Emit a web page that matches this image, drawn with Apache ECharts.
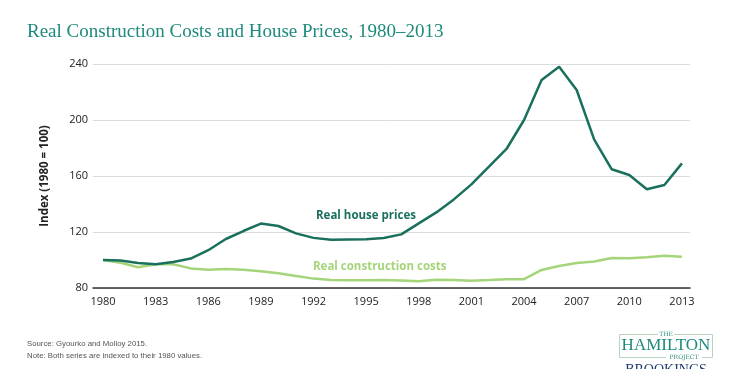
<!DOCTYPE html>
<html>
<head>
<meta charset="utf-8">
<script src="https://cdn.jsdelivr.net/npm/echarts@6/dist/echarts.min.js"></script>
<style>html,body{margin:0;padding:0;background:#fff;}#c{width:729px;height:369px;}</style>
</head>
<body>
<div id="c"></div>
<script>
const years = [1980,1981,1982,1983,1984,1985,1986,1987,1988,1989,1990,1991,1992,1993,1994,1995,1996,1997,1998,1999,2000,2001,2002,2003,2004,2005,2006,2007,2008,2009,2010,2011,2012,2013];
const housePrices = [100,99.6,97.8,97,98.6,101,107,115,120.7,126,124.3,119,115.8,114.5,114.7,114.8,115.7,118.3,126.2,134,143.3,154,166.7,179.3,200,228.6,238,221.4,186,164.8,160.7,150.5,153.6,169];
const constructionCosts = [100,98,94.8,97,97,94,93,93.5,93,92,90.5,88.6,86.7,85.7,85.5,85.5,85.7,85.3,84.8,85.9,85.7,85.2,85.7,86.3,86.3,92.9,95.7,97.9,99,101.4,101.2,101.9,103.1,102.4];
const xTicks = [1980,1983,1986,1989,1992,1995,1998,2001,2004,2007,2010,2013];
const yTicks = [80,120,160,200,240];

const darkGreen = '#19705c';
const lightGreen = '#a5d47a';

const chart = echarts.init(document.getElementById('c'), null, {renderer:'canvas'});
chart.setOption({
  animation: false,
  backgroundColor: '#fff',
  title: {
    text: 'Real Construction Costs and House Prices, 1980–2013',
    left: 22, top: 18,
    textStyle: {fontFamily: 'Liberation Serif', fontWeight: 'normal', fontSize: 19, color: '#1d8a7c'}
  },
  grid: {left: 93, right: 39, top: 64, bottom: 81, containLabel: false},
  xAxis: {
    type: 'value', min: 1979.43, max: 2013.46,
    axisLine: {show: true, lineStyle: {color: '#333', width: 1.5}},
    axisTick: {show: false},
    splitLine: {show: false},
    axisLabel: {customValues: xTicks, color: '#222', fontSize: 11, fontFamily: 'Open Sans', margin: 8,
      formatter: v => String(v)}
  },
  yAxis: {
    type: 'value', min: 80, max: 240, interval: 40,
    name: 'Index (1980 = 100)', nameLocation: 'middle', nameGap: 42,
    nameTextStyle: {fontWeight: 'bold', fontSize: 11.5, color: '#222', fontFamily: 'Open Sans'},
    axisLine: {show: false}, axisTick: {show: false},
    axisLabel: {color: '#222', fontSize: 11, fontFamily: 'Open Sans', margin: 5},
    splitLine: {lineStyle: {color: '#dcdcdc', width: 1}}
  },
  series: [
    {type: 'line', name: 'Real construction costs', data: years.map((y,i)=>[y, constructionCosts[i]]),
      showSymbol: false, lineStyle: {color: lightGreen, width: 2.5}, z: 2},
    {type: 'line', name: 'Real house prices', data: years.map((y,i)=>[y, housePrices[i]]),
      showSymbol: false, lineStyle: {color: darkGreen, width: 2.5}, z: 3}
  ],
  graphic: [
    {type: 'text', left: 316, top: 210, style: {text: 'Real house prices', fill: darkGreen, font: 'bold 11.5px "Open Sans"'}},
    {type: 'text', left: 313, top: 261, style: {text: 'Real construction costs', fill: lightGreen, font: 'bold 11.5px "Open Sans"'}},
    {type: 'text', left: 27, top: 340, style: {text: 'Source: Gyourko and Molloy 2015.', fill: '#555', font: '7.8px "Liberation Sans"'}},
    {type: 'text', left: 27, top: 352, style: {text: 'Note: Both series are indexed to their 1980 values.', fill: '#555', font: '7.8px "Liberation Sans"'}},
    {type: 'rect', shape: {x: 619.5, y: 334.5, width: 93, height: 23}, style: {fill: 'none', stroke: '#b9d3bf', lineWidth: 1}},
    {type: 'rect', shape: {x: 658, y: 331, width: 16, height: 6}, style: {fill: '#fff'}},
    {type: 'text', x: 666, y: 334, style: {text: 'THE', fill: '#2a8a7c', font: '6px "DejaVu Serif"', align: 'center', verticalAlign: 'middle'}},
    {type: 'text', x: 666, y: 346, style: {text: 'HAMILTON', fill: '#1d8a7c', font: '17px "Liberation Serif"', align: 'center', verticalAlign: 'middle'}},
    {type: 'rect', shape: {x: 666, y: 354, width: 36, height: 6}, style: {fill: '#fff'}},
    {type: 'text', x: 684, y: 357, style: {text: 'PROJECT', fill: '#2a8a7c', font: '6px "DejaVu Serif"', align: 'center', verticalAlign: 'middle'}},
    {type: 'text', x: 666, y: 370, style: {text: 'BROOKINGS', fill: '#1b3a6b', font: '14px "Liberation Serif"', align: 'center', verticalAlign: 'middle'}}
  ]
});
</script>
</body>
</html>
